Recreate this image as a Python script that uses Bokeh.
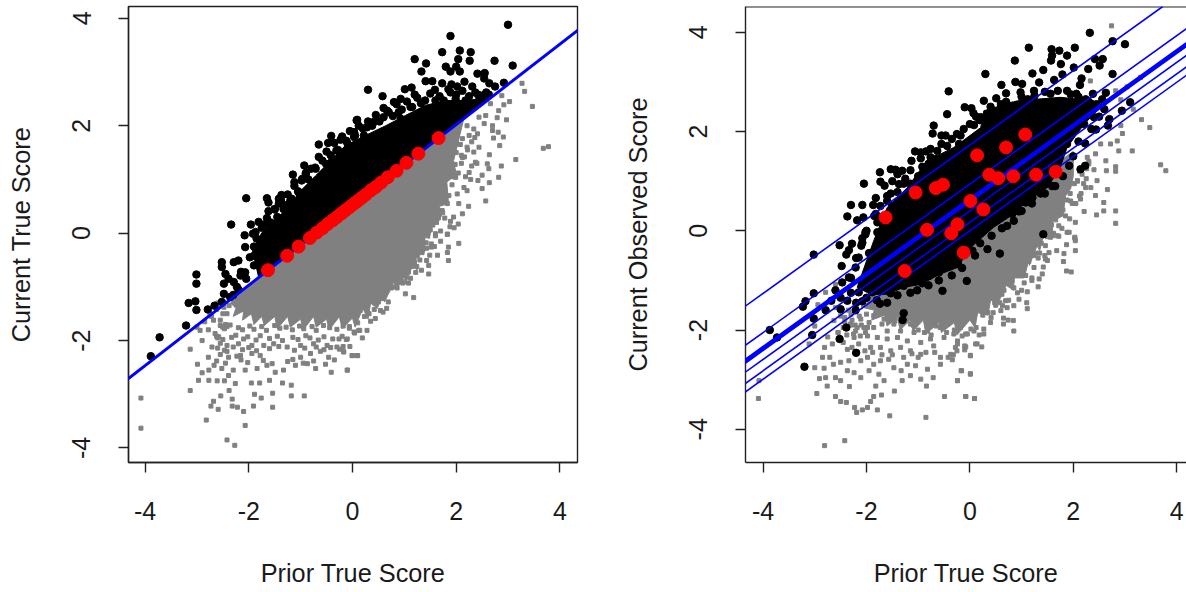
from bokeh.plotting import figure
from bokeh.layouts import row
from bokeh.models import FixedTicker, Slope, Span
from bokeh.embed import file_html
from bokeh.resources import INLINE

TICKS = [-4, -2, 0, 2, 4]
TICK_LABELS = {-4: "-4", -2: "-2", 0: "0", 2: "2", 4: "4"}
X_LABEL = "Prior True Score"
Y_LABEL_A = "Current True Score"
Y_LABEL_B = "Current Observed Score"
SLOPE = 0.748
INTERCEPT_A = 0.527
INTERCEPTS_B = [1.73, 0.94, 0.66, 0.64, 0.62, 0.6, 0.58, 0.4, 0.17, 0.0]

# Dense centres of the clouds (outline of the solid areas)
a_black_core_x = [-1.81, -1.93, -1.74, -1.54, -1.20, -1.00, -0.71, -0.42, -0.14, 0.25, 0.64, 1.02, 1.41, 1.80, 2.18, 2.66]
a_black_core_y = [-0.82, -0.32, 0.01, 0.20, 0.52, 0.79, 1.07, 1.35, 1.63, 1.82, 2.00, 2.19, 2.38, 2.47, 2.47, 2.52]
a_grey_core_x = [-2.2, -2.35, -2.25, -2.3, -2.1, -2.12, -1.95, -1.9, -1.75, -1.7, -1.5, -1.45, -1.25, -1.2, -1.0, -0.95, -0.75, -0.7, -0.5, -0.45, -0.25, -0.2, 0.0, 0.05, 0.2, 0.3, 0.35, 0.48, 0.6, 0.62, 0.8, 0.85, 1.0, 1.02, 1.18, 1.25, 1.22, 1.38, 1.4, 1.48, 1.55, 1.7, 1.68, 1.85, 1.82, 2.0, 1.95, 2.15]
a_grey_core_y = [-1.12, -1.3, -1.4, -1.55, -1.45, -1.62, -1.5, -1.7, -1.55, -1.72, -1.55, -1.78, -1.55, -1.75, -1.6, -1.8, -1.55, -1.75, -1.6, -1.8, -1.55, -1.78, -1.58, -1.75, -1.4, -1.6, -1.3, -1.4, -1.1, -1.28, -0.9, -1.05, -0.8, -0.95, -0.55, -0.7, -0.4, -0.4, -0.05, -0.1, 0.2, 0.25, 0.5, 0.55, 0.95, 1.1, 1.35, 2.14]
b_black_core_x = [-1.86, -1.6, -1.21, -0.83, -0.31, 0.21, 0.27, 0.92, 1.75, 2.40, 2.53, 2.21, 1.88, 1.75, 1.5, 1.11, 0.85, 0.46, 0.01, -0.24, -0.57, -0.95, -1.28, -1.6, -1.92, -2.18]
b_black_core_y = [-0.2, 0.47, 0.87, 1.41, 1.68, 2.08, 2.42, 2.62, 2.69, 2.62, 2.49, 2.15, 1.68, 1.28, 0.87, 0.6, 0.34, 0.07, -0.34, -0.74, -0.87, -1.08, -1.14, -1.28, -1.28, -1.14]
b_grey_core_x = [-1.9, -2.05, -1.85, -1.9, -1.65, -1.6, -1.4, -1.35, -1.15, -1.1, -0.9, -0.85, -0.6, -0.55, -0.3, -0.25, 0.0, 0.1, 0.15, 0.35, 0.4, 0.55, 0.7, 0.85, 0.85, 1.05, 1.15, 1.15, 1.3, 1.35, 1.42, 1.6, 1.6, 1.8, 1.85, 1.95, 2.0, 2.0]
b_grey_core_y = [-1.3, -1.55, -1.6, -1.8, -1.7, -1.92, -1.75, -2.0, -1.8, -2.02, -1.8, -2.08, -1.85, -2.05, -1.85, -2.1, -1.8, -1.95, -1.65, -1.7, -1.4, -1.45, -1.1, -1.2, -0.95, -0.95, -0.55, -0.7, -0.3, -0.4, -0.1, -0.05, 0.2, 0.3, 0.7, 0.85, 1.1, 1.6]

a_black_x = [-2.05, -2.34, -2.08, -1.96, -1.81, -1.70, -1.65, -1.62, -1.62, -1.50, -1.42, -1.37, -1.42, -1.33, -1.42, -1.17, -1.17, -1.15, -1.12, -1.04, -0.93, -0.90, -0.97, -0.71, -0.60, -0.65, -0.47, -0.41, -0.51, -0.42, -0.23, -0.31, -0.10, 0.03, 0.08, 0.09, -1.87,
             -2.07, -3.01, -3.01, -3.16, -3.03, -3.01, -2.79, -2.66, -3.21, -3.72, -3.89, -2.52, -2.52, -2.29, -2.20, -2.45, -2.48, -2.29, -2.39, -2.16, -2.48, -2.52, -2.36, -2.23, -2.07, -1.90, -1.90, -1.78, -1.71, -1.92,
             3.00, 1.89, 1.73, 2.07, 2.28, 2.04, 2.26, 2.74, 3.09, 1.20, 1.42, 1.33, 1.80, 1.89, 2.00, 2.07, 2.41, 2.55, 2.54, 2.64, 2.75, 2.92, 1.41, 1.54, 1.73, 2.16, 1.91, 0.30, 0.58, 1.14, 1.01, 1.59, 2.02, 2.31, 1.89, 2.37, 2.63, 2.50, 0.80, 0.93, 1.20, 1.40, 1.60, 1.76, 1.99, 2.18, 2.41, 0.60, 0.67, 0.09, 0.41, 0.60, 0.28, 0.03, 0.03, 0.22, 0.89, 1.15, 0.93,
             -2.3, -2.2, -2.15, -2.05, -1.98, -1.9, -1.85, -1.75, -1.7, -1.65, -1.58, -1.5, -1.45, -1.38, -1.3, -1.25, -1.2, -1.12, -1.05, -0.98, -0.9, -0.85, -0.8, -0.72, -0.65, -0.58, -0.5, -0.42, -0.35, -0.28, -0.2, -0.12, -0.05, 0.05, 0.12, 0.2, 0.3, 0.38, 0.45, 0.52, 0.7, 0.78, 0.85, 0.95, 1.05, 1.12, 1.25, 1.32, 1.5, 1.68, 1.85, 2.0, 2.12, 2.25, 2.42, 2.58]
a_black_y = [0.65, 0.16, -0.04, 0.16, 0.21, 0.16, 0.65, 0.57, 0.41, 0.44, 0.64, 0.71, 0.55, 0.45, 0.27, 0.64, 0.55, 1.09, 0.95, 0.76, 1.26, 1.10, 1.01, 1.20, 1.01, 1.65, 1.68, 1.81, 1.29, 1.31, 1.74, 1.54, 1.68, 1.88, 2.10, 1.66, 0.02,
             -0.26, -0.77, -0.94, -1.30, -1.27, -1.43, -1.42, -1.35, -1.72, -1.94, -2.29, -0.54, -0.63, -0.54, -0.51, -0.76, -0.94, -0.91, -0.85, -0.79, -1.13, -1.28, -1.19, -1.00, -0.73, -0.60, -0.42, -0.23, -0.32, -0.01,
             3.88, 3.67, 3.37, 3.40, 3.37, 3.24, 3.21, 3.21, 3.12, 3.24, 3.16, 3.01, 3.10, 3.01, 3.10, 3.01, 2.97, 2.98, 2.88, 2.79, 2.73, 2.80, 2.83, 2.83, 2.79, 2.82, 2.77, 2.67, 2.55, 2.71, 2.68, 2.67, 2.73, 2.73, 2.62, 2.62, 2.58, 2.56, 2.44, 2.50, 2.58, 2.47, 2.47, 2.47, 2.50, 2.47, 2.44, 2.33, 2.28, 2.11, 2.07, 2.16, 1.97, 1.88, 1.79, 1.82, 2.25, 2.35, 2.13,
             -1.15, -1.05, -0.72, -0.85, -0.45, -0.25, -0.1, 0.1, -0.05, 0.28, 0.2, 0.45, 0.3, 0.62, 0.52, 0.72, 0.6, 0.88, 0.78, 0.98, 1.12, 1.0, 1.2, 1.22, 1.42, 1.35, 1.52, 1.45, 1.68, 1.55, 1.8, 1.72, 1.9, 1.82, 2.0, 1.95, 2.08, 2.0, 2.2, 2.08, 2.25, 2.18, 2.4, 2.3, 2.45, 2.35, 2.52, 2.42, 2.6, 2.55, 2.68, 2.58, 2.65, 2.55, 2.58, 2.62]

a_grey_x = [-4.08, -4.08, -2.42, -2.27, -2.82, -2.07, -3.13, -2.99, -2.78, -2.94, -2.90, -2.71, -2.65, -2.58, -2.42, -2.55, -2.39, -2.23, -2.67, -2.52, -2.90, -2.97, -2.77, -2.77, -2.61, -2.47, -2.39, -2.26, -2.07, -1.95, -1.79, -1.60, -1.35, -1.18, -2.38, -2.54, -2.32, -1.89, -1.76, -1.54, -1.18, -0.93, -2.68, -2.73, -2.59, -2.32, -2.22, -2.10, -1.91, -1.54, -3.13, -0.41, -0.10, -0.71, -0.87, -1.10, -1.33, -1.65, -1.84, -1.49, -1.78, -1.94, -2.16, -1.00, -0.81, -0.46, -0.62, -0.30, -0.17, -0.01, 0.09, 0.03, -0.10, 0.12, -0.26, -0.49, -0.75, -1.00, -1.26, -1.52, -1.71, -1.94, -2.20, -2.42,
            3.27, 3.32, 3.47, 3.03, 2.88, 2.92, 2.82, 2.79, 2.97, 2.66, 2.57, 2.44, 2.54, 2.70, 2.70, 2.81, 2.34, 2.21, 2.02, 2.25, 2.41, 2.12, 2.72, 2.91, 2.84, 3.68, 3.78, 3.15, 2.64, 2.87, 2.60, 2.82, 2.63, 2.44, 2.34, 2.21, 2.02, 1.83, 1.92, 2.12, 2.37, 2.25, 2.42, 2.64, 2.50, 2.57, 2.21, 1.99, 1.80, 1.63, 2.02, 2.24, 2.12, 1.89, 2.04, 1.96, 1.70, 1.83, 1.73, 1.83, 1.57, 1.80, 1.63, 1.50, 1.60,
            1.83, 2.05, 1.85, 1.83, 1.85, 1.64, 1.49, 1.43, 1.52, 1.43, 1.47, 1.47, 1.33, 1.24, 1.22, 1.12, 1.08, 0.97, 0.86, 1.02, 1.18, 0.69, 0.60, 0.66, 0.54, 0.59, 0.44, 0.35, 0.23, 0.28, 0.14, 0.19, 0.04, -0.06, 0.10, -0.12, -0.18, -0.17, 0.00, 0.10, -0.10, -0.20, 0.15, 0.03,
            -2.55, -2.47, -2.36, -2.2, -2.12, -1.98, -1.9, -1.75, -1.66, -1.5, -1.4, -1.28, -1.16, -1.02, -0.94, -0.78, -0.7, -0.56, -0.44, -0.3, -0.18, -0.06,
            -2.62, -2.5, -2.33, -2.25, -2.1, -2.02, -1.86, -1.78, -1.6, -1.45, -1.35, -1.15, -1.05, -0.9, -0.82, -0.66, -0.55, -0.38, -0.2,
            -2.6, -2.47, -2.3, -2.12, -2.0, -1.85, -1.6, -1.42, -1.12, -0.92, -0.7, -0.55, -0.42, -0.25, -0.05,
            -2.62, -2.45, -2.15, -2.02, -1.72, -1.55, -1.25, -1.15, -0.95, -0.75, -0.52, -0.35,
            1.45, 1.55, 1.4, 1.6, 1.68, 1.75, 1.9, 1.98, 2.1, 2.18, 2.3, 1.52, 1.38, 1.28, 1.35, 1.25, 1.15, 1.08, 0.95, 0.88, 0.78, 0.72, 0.62, 0.5, 0.42, 0.32, 2.05, 2.15, 2.28, 2.4, 2.5, 1.95, 1.88, 1.78, 1.7, 1.58,
            -2.85, -3.0, -2.72, -2.78, -2.6, -2.5, -2.45, -2.6, -2.55, -2.38, -2.42, -2.3]
a_grey_y = [-3.07, -3.63, -3.85, -3.95, -3.48, -3.58, -2.16, -2.44, -2.31, -1.81, -2.00, -2.12, -1.87, -1.93, -1.74, -2.26, -2.31, -2.29, -2.46, -2.52, -2.60, -2.74, -2.55, -2.74, -2.75, -2.75, -2.65, -2.80, -2.55, -2.79, -2.79, -2.74, -2.79, -2.83, -2.93, -3.03, -3.09, -3.00, -3.07, -2.98, -3.03, -3.03, -3.13, -3.22, -3.28, -3.22, -3.24, -3.32, -3.22, -3.24, -2.93, -2.59, -2.55, -2.52, -2.43, -2.46, -2.55, -2.46, -2.52, -2.59, -2.28, -2.24, -2.28, -2.31, -2.24, -2.31, -2.20, -2.12, -2.21, -2.28, -2.28, -1.84, -1.97, -1.81, -1.97, -2.09, -2.06, -2.09, -2.12, -2.06, -2.09, -2.09, -2.06, -2.09,
            2.79, 2.64, 2.36, 2.45, 2.56, 2.39, 2.28, 2.15, 2.11, 2.41, 2.19, 2.16, 2.04, 2.00, 1.91, 1.88, 1.94, 2.00, 1.88, 1.82, 1.85, 1.76, 1.77, 1.79, 1.63, 1.58, 1.61, 1.37, 1.46, 1.25, 1.29, 1.04, 1.20, 1.60, 1.51, 1.60, 1.66, 1.72, 1.54, 1.41, 1.32, 1.13, 0.98, 0.94, 0.83, 0.60, 0.79, 1.04, 1.41, 1.48, 0.73, 0.50, 0.36, 0.22, 0.17, 0.10, 0.04, -0.02, 0.42, 0.55, 0.86, 1.10, 0.61, 0.30, -0.01,
            -0.02, -0.19, -0.26, -0.36, -0.51, -0.41, -0.41, -0.28, -0.26, -0.51, -0.60, -0.76, -0.69, -0.62, -0.73, -0.84, -0.93, -0.93, -1.02, -1.13, -1.20, -1.28, -1.16, -1.40, -1.44, -1.47, -1.59, -1.64, -1.55, -1.81, -1.81, -1.95, -1.86, -1.74, -1.67, -1.98, -2.11, -2.21, -2.28, -2.28, -2.55, -1.59, -1.44, -1.47,
            -1.72, -1.78, -1.71, -1.76, -1.8, -1.73, -1.79, -1.74, -1.81, -1.72, -1.77, -1.75, -1.8, -1.73, -1.78, -1.74, -1.81, -1.72, -1.76, -1.79, -1.73, -1.77,
            -1.92, -1.98, -1.94, -1.9, -1.97, -1.93, -1.99, -1.91, -1.96, -1.92, -2.0, -1.94, -1.98, -1.91, -1.95, -1.99, -1.93, -1.97, -1.92,
            -2.14, -2.18, -2.12, -2.17, -2.13, -2.19, -2.15, -2.11, -2.18, -2.14, -2.12, -2.17, -2.13, -2.16, -2.11,
            -2.38, -2.42, -2.36, -2.41, -2.37, -2.43, -2.39, -2.35, -2.42, -2.38, -2.44, -2.36,
            0.4, 0.15, 0.7, -0.05, 0.35, 0.72, 1.05, 1.28, 1.45, 1.05, 1.25, -0.2, 0.3, -0.05, -0.3, -0.42, -0.62, -0.72, -0.9, -0.8, -1.0, -0.9, -1.12, -1.22, -1.3, -1.5, 0.55, 0.85, 1.0, 1.3, 1.08, 0.3, 0.12, 0.28, -0.15, -0.25,
            -1.65, -1.75, -1.55, -1.8, -1.3, -1.5, -1.7, -1.95, -2.05, -1.35, -2.2, -2.55]
a_grey_edge_x = [0.42, 0.5, 0.58, 0.68, 0.75, 0.84, 0.92, 1.0, 1.06, 1.14, 1.2, 1.3, 1.36, 1.42, 1.45, 1.5, 1.55, 1.62, 1.68, 1.74, 1.8, 1.86, 1.92, 1.98, 2.04, 2.1, 2.16, 2.22, 2.3, 2.36, 1.28, 1.35, 1.46, 1.52, 1.6, 1.9, 2.0, 2.08, -2.75, -2.62, -2.55, -2.48, -2.42, -2.68, -2.5]
a_grey_edge_y = [-1.42, -1.28, -1.22, -1.06, -1.02, -0.88, -0.86, -0.7, -0.72, -0.56, -0.42, -0.5, -0.3, -0.18, -0.05, 0.06, 0.22, 0.2, 0.42, 0.38, 0.62, 0.7, 0.9, 1.05, 1.12, 1.3, 1.42, 1.55, 1.7, 1.78, -0.25, -0.1, 0.3, 0.45, 0.6, 1.2, 1.5, 1.65, -1.5, -1.42, -1.62, -1.38, -1.5, -1.62, -1.75]

a_red_x = [-1.63, -1.26, -1.04, -0.82, -0.69, -0.58, -0.48, -0.38, -0.30, -0.21, -0.13, -0.05, 0.03, 0.10, 0.18, 0.26, 0.36, 0.45, 0.55, 0.68, 0.85, 1.04, 1.27, 1.66]
a_red_y = [-0.69, -0.42, -0.25, -0.09, 0.01, 0.09, 0.17, 0.24, 0.30, 0.37, 0.43, 0.49, 0.55, 0.60, 0.66, 0.72, 0.80, 0.86, 0.94, 1.04, 1.16, 1.31, 1.48, 1.77]

b_black_x = [-0.41, -0.44, -0.70, -0.72, -0.55, -0.47, -0.10, 0.03, 0.07, 0.19, 0.08, -0.18, -0.21, -0.44, -0.76, -0.95, -1.06, -0.95, -1.13, -1.15, -0.92, -1.53, -1.44, -1.31, -1.40, -1.74, -1.73, -1.65, -1.50, -1.37, -1.28, -2.05, -1.53, -1.82, -2.30, -2.08, -1.87, -1.73, -2.37, -2.18, -2.06, -1.82, -1.79, -2.02, -2.08, -1.79, -1.60, -1.44, -0.63, -0.76,
             2.32, 2.76, 3.00, 1.14, 2.03, 1.58, 1.73, 1.88, 1.59, 1.57, 0.87, 2.42, 2.57, 1.76, 2.51, 2.01, 2.29, 1.42, 1.21, 0.30, 2.76, 1.79, 2.16, 0.61, 0.88, 1.01, 1.34, 1.63, 2.13, 1.88, 2.06, 2.38, 2.63, 0.70, 0.98, 0.51, 0.27, 2.24, 2.56, 3.10, 2.94, 2.40, 2.21, 2.67, 2.44, 2.23, 1.88, 1.75, 1.92, 2.23, 2.14, 1.37, 1.59, 1.21, 1.08, 0.95, 0.82, 0.72, 1.42, 0.53, 0.21, 0.60, 1.24, 1.56,
             -3.02, -2.52, -2.28, -2.34, -2.39, -2.08, -2.02, -2.15, -2.48, -2.21, -2.34, -2.47, -3.02, -3.18, -3.23, -2.68, -2.79, -2.50, -2.37, -2.21, -2.08, -3.02, -3.87, -3.73, -3.05, -2.39, -2.52, -2.20, -3.20, -1.74, -1.28, -1.30, -1.53, -1.28, -1.02, -0.92, -0.53, -0.06, -0.23, -0.60, -0.79, -1.86, -1.66, -1.89, -2.15, -2.08, -1.82, -1.95, -1.73, 0.58, 0.34, -0.24, 0.05,
             -2.3, -2.2, -2.1, -2.0, -1.95, -1.85, -1.7, -1.6, -1.5, -1.4, -1.25, -1.15, -1.0, -0.85, -0.8, -0.65, -0.55, -0.35, -0.25, -0.12, 0.0, 0.12, 0.4, 0.48, 0.7, 0.82, 1.0, 1.12, 1.25, 1.45, 1.7, 1.95, 2.1, 2.3, 2.45, 2.6, 2.5, 2.7, 2.35,
             -2.6, -2.5, -2.3, -2.2, -2.0, -1.8, -1.6, -1.4, -1.15, -0.8, -0.6, -0.35, -0.15, 0.1, 0.2, 0.42, 0.62, 0.85, 1.0, 1.2, 1.45, 1.65, 1.8, 2.0, 2.1]
b_black_y = [2.81, 2.35, 2.12, 1.96, 1.92, 1.92, 2.49, 2.47, 2.37, 2.23, 2.13, 1.92, 1.75, 1.71, 1.65, 1.58, 1.60, 1.46, 1.41, 1.22, 1.29, 1.24, 1.23, 1.21, 1.14, 1.18, 0.99, 0.91, 1.00, 0.94, 0.95, 0.95, 0.75, 0.66, 0.52, 0.52, 0.52, 0.50, 0.29, 0.21, 0.27, 0.34, 0.17, -0.03, -0.15, -0.03, 0.60, 0.44, 1.61, 1.48,
             3.99, 3.82, 3.76, 3.69, 3.69, 3.66, 3.63, 3.53, 3.53, 3.43, 3.43, 3.46, 3.46, 3.36, 3.33, 3.29, 3.26, 3.24, 3.17, 3.16, 3.16, 3.15, 3.07, 2.94, 3.00, 2.96, 2.99, 3.04, 2.94, 2.82, 2.76, 2.76, 2.78, 2.77, 2.79, 2.67, 2.62, 2.65, 2.65, 2.59, 2.42, 2.29, 2.15, 2.12, 2.04, 1.76, 1.75, 1.55, 1.31, 1.31, 1.24, 0.75, 0.90, 0.67, 0.57, 0.39, 0.34, 0.10, -0.07, 0.27, 2.29, 2.55, 2.82, 2.76,
             -0.48, -0.29, -0.26, -0.39, -0.48, -0.24, -0.07, -0.54, -0.71, -0.74, -0.94, -1.04, -1.26, -1.42, -1.53, -1.41, -1.60, -1.58, -1.41, -1.60, -1.42, -1.77, -2.00, -2.15, -2.10, -1.95, -2.18, -2.46, -2.74, -1.47, -1.66, -1.80, -1.26, -1.11, -1.20, -1.06, -1.21, -1.01, -0.67, -0.84, -0.91, -1.08, -1.18, -1.24, -1.24, -1.04, -0.67, -0.71, -0.47, -0.46, -0.37, -0.67, -0.40,
             -0.95, -0.55, -0.3, 0.0, -0.45, 0.3, 0.25, 0.7, 0.5, 0.78, 1.05, 0.95, 1.1, 1.6, 1.35, 1.45, 1.75, 1.85, 1.95, 2.05, 2.15, 2.3, 2.5, 2.35, 2.6, 2.52, 2.7, 2.65, 2.72, 2.8, 2.82, 2.75, 2.7, 2.6, 2.55, 2.45, 2.3, 2.25, 2.05,
             -1.2, -1.35, -1.25, -1.45, -1.35, -1.4, -1.45, -1.3, -1.25, -1.1, -1.0, -0.9, -0.75, -0.5, -0.25, -0.1, 0.05, 0.2, 0.4, 0.55, 0.75, 0.9, 1.1, 1.5, 1.8]

b_grey_x = [2.74, 2.33, 2.82, 3.04, 3.30, 2.92, 3.16, 3.32, 3.48, 2.92, 2.66, 2.95, 2.85, 2.72, 3.14, 2.88, 3.69, 3.79, 2.82, 2.82, 2.63, 2.64, 2.40, 2.27, 2.43, 2.53, 2.46, 2.66, 2.43, 2.59, 2.59, 2.82, 2.45, 2.82, 2.21, 2.14, 2.04, 1.93, 1.88, 1.69, 2.03, 2.34, 2.24, 2.08, 2.17, 1.92, 1.95, 1.75, 1.56,
            1.92, 2.03, 2.04, 2.04, 1.87, 1.68, 1.82, 1.81, 1.87, 1.96, 1.72, 1.56, 1.46, 1.53, 1.46, 1.42, 1.40, 1.34, 1.24, 1.24, 1.32, 1.11, 1.10, 1.11, 0.95, 0.85, 0.69, 0.60, 0.63, 0.41, 0.65, 0.74, 0.84, 0.65, 0.85, 0.27, 0.27, 0.18, 0.08, -0.08, 0.11, 0.23, -0.08, -0.28, 0.01, -0.32, -0.34, -0.16, 0.01, -0.24, -0.08, 0.09, -0.24, -0.18, 0.21, 0.01,
            -4.09, -4.08, -2.81, -2.42, -0.85, -1.55, -2.96, -2.76, -2.60, -2.50, -2.39, -2.23, -2.19, -2.08, -1.98, -1.92, -1.86, -1.71, -1.79, -1.46, -1.82, -2.33, -0.49, -0.08, 0.09, -0.84, -0.24, -0.71, -1.15, -1.31, -0.95, -1.66, -1.76, -1.95, -2.11, -2.24, -2.37, -2.50, -2.60, -2.79, -2.91, -3.00, -2.82, -2.85, -2.71, -2.64, -2.50, -2.34, -2.81, -2.66, -3.11, -2.75, -2.37, -2.11, -1.98, -1.86, -1.73, -1.57, -1.47, -1.33, -1.21, -1.05, -0.82, -0.57, -0.37, -0.17, 0.01, 0.01, -0.10, 0.14, -0.24, -0.70, -0.57, -0.95, -1.15, -1.34, -1.53, -1.73, -1.92, -2.15, -2.24, -1.98, -1.79, -1.60, -1.40, -1.21, -0.95, -0.76, -0.50, -0.31, -0.05, -2.63, -2.77, -2.94, -2.79, -2.60, -3.00, -2.31, -2.11, -1.86, -1.66, -1.47, -1.15, -0.82, -0.57, -2.21, -1.86, -1.60, -1.34, -1.08,
            -2.5, -2.42, -2.3, -2.22, -2.05, -1.95, -1.8, -1.7, -1.55, -1.45, -1.25, -1.1, -1.0, -0.88, -0.75, -0.65, -0.45, -0.3, -0.15, 0.02,
            -2.55, -2.45, -2.28, -2.18, -2.03, -1.88, -1.7, -1.5, -1.28, -1.12, -1.0, -0.85, -0.68, -0.42, -0.25, -0.1, 0.12,
            0.35, 0.5, 0.62, 0.75, 0.85, 1.0, 1.08, 1.2, 1.32, 1.45, 1.6, 1.72, 1.85, 1.98, 2.12, 2.25, 2.3, 1.35, 1.5, 1.62, 1.78, 0.45, 0.58, 0.72, 0.92, 1.05, 1.2, 0.25, 0.4]
b_grey_y = [4.13, 3.02, 2.82, 2.90, 3.09, 2.64, 2.45, 2.24, 2.08, 2.12, 2.25, 1.96, 1.81, 1.75, 1.61, 1.61, 1.33, 1.21, 1.29, 1.20, 1.41, 1.21, 1.23, 1.48, 1.55, 1.75, 1.01, 0.83, 0.71, 0.57, 0.40, 0.40, 0.32, 0.15, 0.39, 0.64, 0.17, 0.24, -0.03, -0.10, -0.15, 0.87, 0.87, 1.01, 1.14, 1.01, 0.60, 0.60, 0.27,
            -0.03, -0.13, -0.20, -0.40, -0.28, -0.40, -0.46, -0.62, -0.81, -0.83, -0.11, -0.13, -0.30, -0.44, -0.57, -0.73, -0.87, -0.97, -0.74, -0.50, -1.13, -1.23, -1.45, -1.57, -1.38, -1.51, -1.41, -1.61, -1.51, -1.75, -1.76, -1.80, -1.81, -1.88, -2.02, -1.98, -2.08, -2.10, -2.02, -2.08, -2.28, -2.34, -2.34, -2.35, -2.51, -2.50, -2.60, -2.82, -2.88, -3.02, -3.34, -3.38, -2.22, -1.95, -1.61, -1.75,
            -3.38, -3.02, -4.33, -4.23, -3.76, -3.73, -3.28, -3.13, -3.34, -3.44, -3.46, -3.56, -3.66, -3.61, -3.56, -3.44, -3.34, -3.31, -3.61, -3.23, -3.13, -3.14, -3.34, -3.34, -3.38, -3.13, -3.02, -2.96, -2.92, -3.02, -2.99, -3.02, -2.89, -2.82, -2.96, -2.86, -2.82, -3.02, -2.96, -2.96, -2.98, -2.76, -2.77, -2.55, -2.55, -2.69, -2.65, -2.62, -2.35, -2.28, -2.28, -2.14, -2.39, -2.62, -2.55, -2.69, -2.62, -2.59, -2.76, -2.82, -2.69, -2.72, -2.79, -2.69, -2.49, -2.82, -2.89, -2.52, -2.32, -2.28, -2.28, -2.32, -2.55, -2.49, -2.42, -2.35, -2.42, -2.35, -2.35, -2.28, -2.15, -2.12, -2.15, -2.18, -2.15, -2.22, -2.25, -2.18, -2.15, -2.08, -2.08, -1.81, -1.61, -1.49, -1.24, -1.08, -1.92, -1.88, -1.78, -1.71, -1.78, -1.88, -1.88, -2.02, -1.95, -2.02, -1.95, -2.02, -2.02, -2.05,
            -1.72, -1.83, -1.68, -1.9, -1.95, -1.52, -1.62, -1.88, -1.45, -1.82, -1.62, -1.9, -2.0, -2.05, -2.1, -1.92, -2.05, -2.0, -2.12, -1.98,
            -2.05, -2.25, -2.35, -2.45, -2.42, -2.45, -2.5, -2.5, -2.55, -2.48, -2.55, -2.45, -2.45, -2.55, -2.42, -2.4, -1.95,
            -1.65, -1.5, -1.28, -1.4, -1.15, -1.2, -0.9, -0.95, -0.55, -0.5, -0.1, 0.1, 0.3, 0.55, 0.7, 1.05, 1.35, -0.45, -0.6, -0.05, 0.05, -1.65, -1.45, -1.55, -1.25, -1.05, -1.0, -1.7, -1.85]
b_grey_edge_x = [-2.6, -2.5, -2.42, -2.35, -2.28, -2.2, -2.14, -2.06, -2.0, -1.95, -2.45, -2.3, -2.18, -2.1, -1.98, -2.55, -2.38, -2.25, -2.12, -2.02, 0.48, 0.55, 0.66, 0.72, 0.82, 0.9, 0.98, 1.06, 1.14, 1.2, 1.28, 1.38, 1.44, 1.5, 1.58, 1.66, 1.72, 1.8, 1.88, 1.94, 2.02, 2.08, 2.12, 2.2, 2.26, 2.3, 2.05, 2.15]
b_grey_edge_y = [-1.55, -1.62, -1.75, -1.6, -1.8, -1.55, -1.72, -1.5, -1.68, -1.85, -1.95, -1.9, -1.95, -1.9, -1.95, -2.05, -2.1, -2.08, -2.12, -2.05, -1.45, -1.25, -1.2, -1.0, -1.0, -0.82, -0.78, -0.6, -0.62, -0.42, -0.45, -0.25, -0.08, -0.12, 0.12, 0.22, 0.35, 0.42, 0.62, 0.75, 0.95, 1.0, 1.2, 0.95, 1.25, 1.4, 0.55, 0.75]

b_red_x = [-1.63, -1.26, -1.05, -0.83, -0.66, -0.52, -0.36, -0.24, -0.12, 0.01, 0.14, 0.26, 0.375, 0.55, 0.70, 0.84, 1.07, 1.28, 1.66]
b_red_y = [0.27, -0.81, 0.77, 0.02, 0.86, 0.93, -0.05, 0.13, -0.44, 0.60, 1.52, 0.43, 1.13, 1.06, 1.68, 1.10, 1.94, 1.13, 1.19]


def panel(width, border_left, border_right, x_range, y_range, y_label):
    p = figure(width=width, height=591, x_range=x_range, y_range=y_range,
               output_backend="svg", toolbar_location=None,
               min_border_left=border_left, min_border_right=border_right, min_border_top=6, min_border_bottom=129)
    p.grid.visible = False
    p.xaxis.axis_label = X_LABEL
    p.yaxis.axis_label = y_label
    for ax in (p.xaxis[0], p.yaxis[0]):
        ax.ticker = FixedTicker(ticks=TICKS)
        ax.major_label_overrides = TICK_LABELS
        ax.major_tick_in = 0
        ax.major_tick_out = 10
        ax.minor_tick_line_color = None
        ax.major_tick_line_color = "#222222"
        ax.major_tick_line_width = 1.4
        ax.axis_line_color = "#222222"
        ax.axis_line_width = 1.4
        ax.major_label_text_font = "Liberation Sans"
        ax.major_label_text_font_size = "25px"
        ax.major_label_text_color = "#1a1a1a"
        ax.axis_label_text_font = "Liberation Sans"
        ax.axis_label_text_font_size = "25.3px"
        ax.axis_label_text_font_style = "normal"
        ax.axis_label_text_color = "#1a1a1a"
    p.xaxis[0].major_label_standoff = 29
    p.xaxis[0].axis_label_standoff = 36
    p.yaxis[0].major_label_orientation = "vertical"
    p.yaxis[0].major_label_standoff = 28
    p.yaxis[0].axis_label_standoff = 35
    p.outline_line_color = "#222222"
    p.outline_line_width = 1.4
    return p


def cloud(p, grey_core, black_core, grey, black):
    p.patch(grey_core[0], grey_core[1], color="#808080")
    p.scatter(grey[0], grey[1], marker="square", size=4, color="#808080")
    p.patch(black_core[0], black_core[1], color="black")
    p.scatter(black[0], black[1], marker="circle", size=7.5, color="black")


a = panel(590, 128, 13, (-4.32, 4.34), (-4.27, 4.22), Y_LABEL_A)
cloud(a, (a_grey_core_x, a_grey_core_y), (a_black_core_x, a_black_core_y),
      (a_grey_x + a_grey_edge_x, a_grey_y + a_grey_edge_y), (a_black_x, a_black_y))
a.add_layout(Slope(gradient=SLOPE, y_intercept=INTERCEPT_A, line_color="#0000ff", line_width=3))
a.scatter(a_red_x, a_red_y, marker="circle", size=13, color="#ff0000", level="overlay")

b = panel(596, 155, 0, (-4.34, 4.19), (-4.67, 4.52), Y_LABEL_B)
b.outline_line_color = None
b.add_layout(Span(location=4.52, dimension="width", line_color="#222222", line_width=2))
cloud(b, (b_grey_core_x, b_grey_core_y), (b_black_core_x, b_black_core_y),
      (b_grey_x + b_grey_edge_x, b_grey_y + b_grey_edge_y), (b_black_x, b_black_y))
for icpt in INTERCEPTS_B:
    b.add_layout(Slope(gradient=SLOPE, y_intercept=icpt, line_color="#0000ff", line_width=1.6))
b.scatter(b_red_x, b_red_y, marker="circle", size=13, color="#ff0000", level="overlay")

page = row(a, b)
open("out.html", "w").write(file_html(page, INLINE))
